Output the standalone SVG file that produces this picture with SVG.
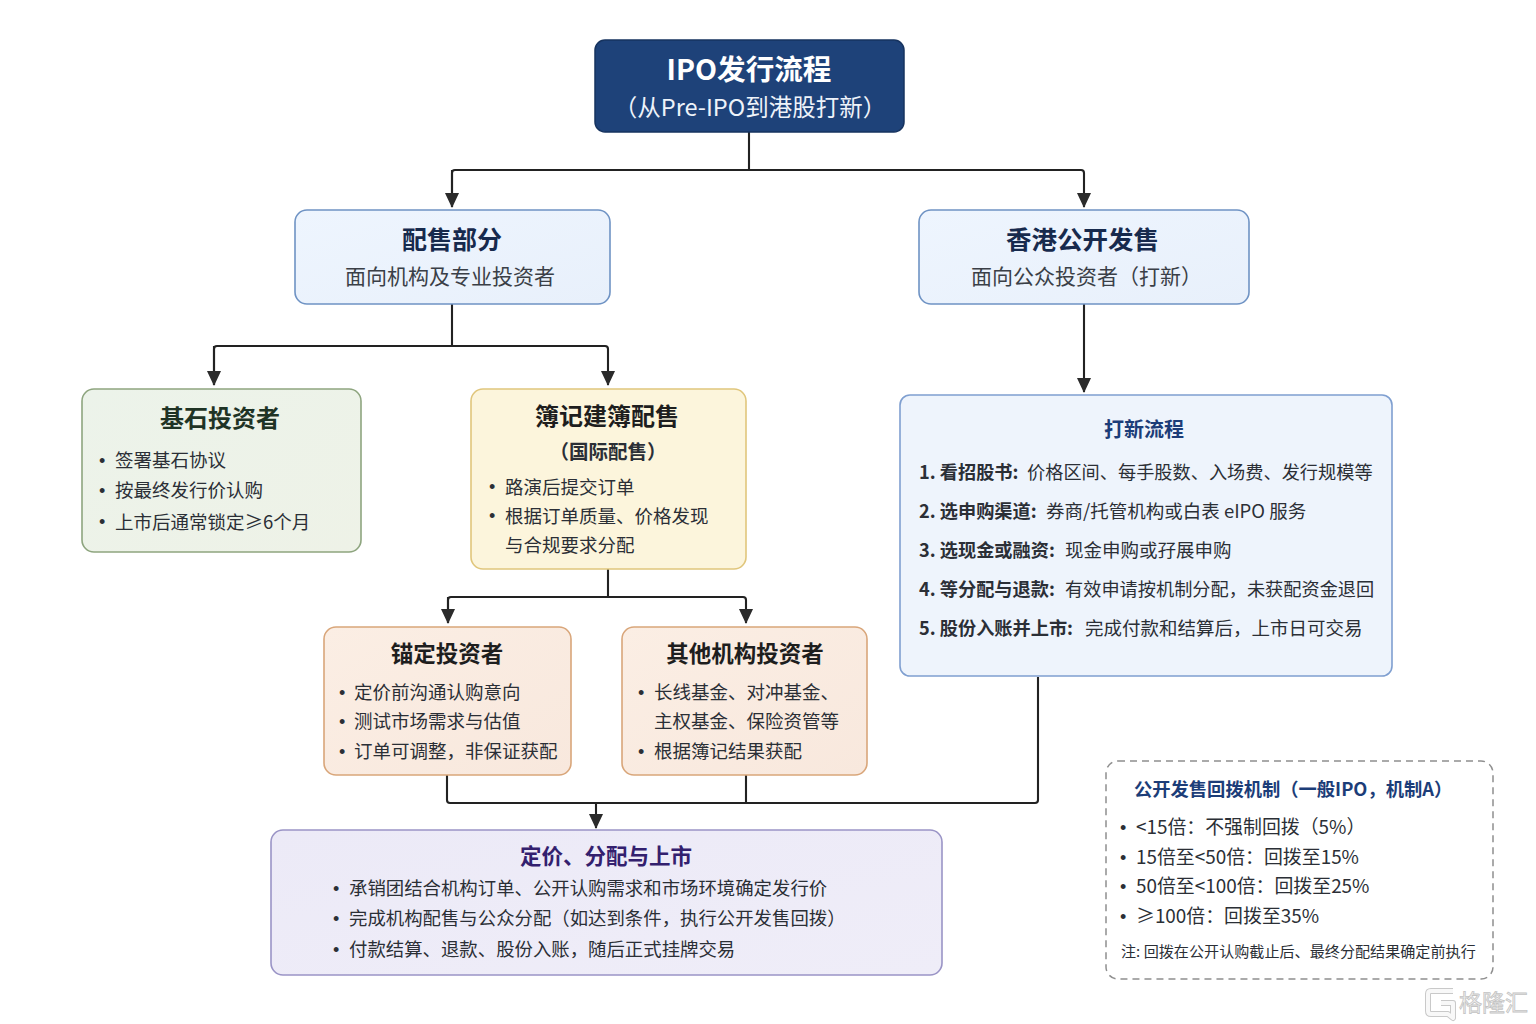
<svg xmlns="http://www.w3.org/2000/svg" width="1536" height="1024" viewBox="0 0 1536 1024">
<style>
text{font-family:"Noto Sans CJK SC","Noto Sans",sans-serif;fill:#2b2f36}
.c{text-anchor:middle}
.b{font-weight:700}
.h{font-size:24px;font-weight:700}
.s{font-size:21px;fill:#3a3f47}
.t{font-size:18.5px}
.n{font-size:18.4px}
.w{font-size:18.9px}
.d{font-family:"Liberation Sans",sans-serif;font-size:18px;fill:#2b2f36}
.box{stroke-width:1.6}
.line{fill:none;stroke:#222;stroke-width:2.1}
</style>
<defs>
<marker id="arrow" markerUnits="userSpaceOnUse" markerWidth="15" markerHeight="14" refX="14" refY="7" orient="auto"><path d="M0 0L15 7L0 14Z" fill="#2b2b2b"/></marker>
<linearGradient id="blueG" x1="0" y1="0" x2="1" y2="1"><stop offset="0" stop-color="#eef5fe"/><stop offset="1" stop-color="#e8f0fb"/></linearGradient>
<linearGradient id="greenG" x1="0" y1="0" x2="1" y2="1"><stop offset="0" stop-color="#ecf3ea"/><stop offset="1" stop-color="#eef2e7"/></linearGradient>
<linearGradient id="orangeG" x1="0" y1="0" x2="1" y2="1"><stop offset="0" stop-color="#fbeee4"/><stop offset="1" stop-color="#f8e8dd"/></linearGradient>
<linearGradient id="purpleG" x1="0" y1="0" x2="1" y2="1"><stop offset="0" stop-color="#eceaf7"/><stop offset="1" stop-color="#efedf8"/></linearGradient>
</defs>
<rect width="1536" height="1024" fill="#fff"/>
<g id="connectors">
<path class="line" d="M749 132V170M452 207V173Q452 170 455 170H1081Q1084 170 1084 173V207" marker-end="url(#arrow)"/>
<path class="line" d="M452 170V207" marker-end="url(#arrow)"/>
<path class="line" d="M452 304V346M214 385V349Q214 346 217 346H605Q608 346 608 349V385" marker-end="url(#arrow)"/>
<path class="line" d="M214 346V385" marker-end="url(#arrow)"/>
<path class="line" d="M1084 304V392" marker-end="url(#arrow)"/>
<path class="line" d="M608 569V597M448 623V600Q448 597 451 597H743Q746 597 746 600V623" marker-end="url(#arrow)"/>
<path class="line" d="M448 597V623" marker-end="url(#arrow)"/>
<path class="line" d="M447 775V800Q447 803 450 803H1035Q1038 803 1038 800V677M746 775V803"/>
<path class="line" d="M596 803V828" marker-end="url(#arrow)"/>
</g>
<g id="node-title">
<rect x="595" y="40" width="309" height="92" rx="10" fill="#1e4279" stroke="#16335f" stroke-width="1.5"/>
<text class="c b" x="749" y="80" font-size="28.6" style="fill:#fff">IPO发行流程</text>
<text class="c" x="750" y="116" font-size="23.5" style="fill:#eef3fa">（从Pre-IPO到港股打新）</text>
</g>
<g id="node-placement">
<rect class="box" x="295" y="210" width="315" height="94" rx="12" fill="url(#blueG)" stroke="#6f93c4"/>
<text class="c" x="452" y="249" font-size="25" font-weight="700" style="fill:#172a4d">配售部分</text>
<text class="c s" x="450" y="284">面向机构及专业投资者</text>
</g>
<g id="node-public">
<rect class="box" x="919" y="210" width="330" height="94" rx="12" fill="url(#blueG)" stroke="#6f93c4"/>
<text class="c" x="1082.500" y="249" font-size="25.500" font-weight="700" style="fill:#172a4d">香港公开发售</text>
<text class="c s" x="1086.500" y="284">面向公众投资者（打新）</text>
</g>
<g id="node-cornerstone">
<rect class="box" x="82" y="389" width="279" height="163" rx="12" fill="url(#greenG)" stroke="#8ea57f"/>
<text class="c h" x="220" y="427" style="fill:#1f3325">基石投资者</text>
<text class="d" x="99" y="467">•</text><text class="t" x="115" y="467">签署基石协议</text>
<text class="d" x="99" y="497">•</text><text class="t" x="115" y="497">按最终发行价认购</text>
<text class="d" x="99" y="528">•</text><text class="t" x="115" y="529">上市后通常锁定≥6个月</text>
</g>
<g id="node-bookbuilding">
<rect class="box" x="471" y="389" width="275" height="180" rx="12" fill="#fcf5dc" stroke="#e0c67c"/>
<text class="c h" x="607" y="425" style="fill:#1e1e1e">簿记建簿配售</text>
<text class="c b" x="608" y="459" font-size="19.5">（国际配售）</text>
<text class="d" x="489" y="493">•</text><text class="t" x="505" y="494">路演后提交订单</text>
<text class="d" x="489" y="522">•</text><text class="t" x="505" y="523">根据订单质量、价格发现</text>
<text class="t" x="505" y="552">与合规要求分配</text>
</g>
<g id="node-anchor">
<rect class="box" x="324" y="627" width="247" height="148" rx="12" fill="url(#orangeG)" stroke="#d9a67a"/>
<text class="c" x="447" y="662" font-size="22.5" font-weight="700" style="fill:#1e1e1e">锚定投资者</text>
<text class="d" x="339" y="699">•</text><text class="t" x="354" y="699">定价前沟通认购意向</text>
<text class="d" x="339" y="728">•</text><text class="t" x="354" y="728">测试市场需求与估值</text>
<text class="d" x="339" y="758">•</text><text class="t" x="354" y="758">订单可调整，非保证获配</text>
</g>
<g id="node-other">
<rect class="box" x="622" y="627" width="245" height="148" rx="12" fill="url(#orangeG)" stroke="#d9a67a"/>
<text class="c" x="745" y="662" font-size="22.5" font-weight="700" style="fill:#1e1e1e">其他机构投资者</text>
<text class="d" x="638" y="699">•</text><text class="t" x="654" y="699">长线基金、对冲基金、</text>
<text class="t" x="654" y="728">主权基金、保险资管等</text>
<text class="d" x="638" y="758">•</text><text class="t" x="654" y="758">根据簿记结果获配</text>
</g>
<g id="node-process">
<rect class="box" x="900" y="395" width="492" height="281" rx="10" fill="#eef4fc" stroke="#7f9fd0"/>
<text class="c" x="1144" y="437" font-size="20" font-weight="700" style="fill:#1c3d78">打新流程</text>
<text x="919" y="479" font-size="18.2"><tspan font-weight="700">1. 看招股书:</tspan><tspan x="1027">价格区间、每手股数、入场费、发行规模等</tspan></text>
<text x="919" y="518" font-size="18.5"><tspan font-weight="700" font-size="18.2">2. 选申购渠道:</tspan><tspan x="1046">券商/托管机构或白表 eIPO 服务</tspan></text>
<text x="919" y="557" font-size="18.5"><tspan font-weight="700" font-size="18.2">3. 选现金或融资:</tspan><tspan x="1065">现金申购或孖展申购</tspan></text>
<text x="919" y="596" font-size="18.2"><tspan font-weight="700">4. 等分配与退款:</tspan><tspan x="1065">有效申请按机制分配，未获配资金退回</tspan></text>
<text x="919" y="635" font-size="18.5"><tspan font-weight="700" font-size="18.2">5. 股份入账并上市:</tspan><tspan x="1085">完成付款和结算后，上市日可交易</tspan></text>
</g>
<g id="node-pricing">
<rect class="box" x="271" y="830" width="671" height="145" rx="12" fill="url(#purpleG)" stroke="#9a94c6"/>
<text class="c" x="606" y="864" font-size="21.5" font-weight="700" style="fill:#33206e">定价、分配与上市</text>
<text class="d" x="333" y="895">•</text><text class="n" x="349" y="895">承销团结合机构订单、公开认购需求和市场环境确定发行价</text>
<text class="d" x="333" y="925">•</text><text class="n" x="349" y="925">完成机构配售与公众分配（如达到条件，执行公开发售回拨）</text>
<text class="d" x="333" y="956">•</text><text class="n" x="349" y="956">付款结算、退款、股份入账，随后正式挂牌交易</text>
</g>
<g id="node-clawback">
<rect x="1106" y="761" width="387" height="218" rx="12" fill="#fff" stroke="#8f8f8f" stroke-width="1.5" stroke-dasharray="7 5"/>
<text x="1134" y="796" font-size="18.3" font-weight="700" style="fill:#1c3d78">公开发售回拨机制（一般IPO，机制A）</text>
<text class="d" x="1120" y="834">•</text><text class="w" x="1136" y="834">&lt;15倍：不强制回拨（5%）</text>
<text class="d" x="1120" y="864">•</text><text class="w" x="1136" y="864">15倍至&lt;50倍：回拨至15%</text>
<text class="d" x="1120" y="893">•</text><text class="w" x="1136" y="893">50倍至&lt;100倍：回拨至25%</text>
<text class="d" x="1120" y="923">•</text><text class="w" x="1136" y="923">≥100倍：回拨至35%</text>
<text x="1121" y="957" font-size="15.1">注: 回拨在公开认购截止后、最终分配结果确定前执行</text>
</g>
<g id="watermark">
<path d="M1453 991H1431Q1428 991 1428 994V1011Q1428 1014 1431 1014H1448L1453 1018V1003H1441" fill="none" stroke="#c9c9c9" stroke-width="6" stroke-linejoin="round"/>
<path d="M1453 991H1431Q1428 991 1428 994V1011Q1428 1014 1431 1014H1448L1453 1018V1003H1441" fill="none" stroke="#f8f8f8" stroke-width="4" stroke-linejoin="round"/>
<text x="1459" y="1011" font-size="23" style="fill:#f2f2f2;stroke:#c4c4c4;stroke-width:.8">格隆汇</text>
</g>
</svg>
